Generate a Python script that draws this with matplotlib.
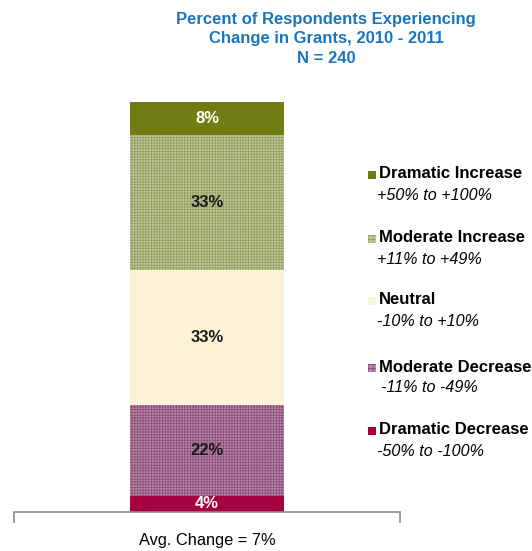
import matplotlib.pyplot as plt
from matplotlib.patches import Rectangle

plt.rcParams['font.family'] = ['Liberation Sans', 'DejaVu Sans']

# stacked from bottom to top
categories = ['Dramatic Decrease', 'Moderate Decrease', 'Neutral',
              'Moderate Increase', 'Dramatic Increase']
ranges = ['-50% to -100%', '-11% to -49%', '-10% to +10%',
          '+11% to +49%', '+50% to +100%']
values = [4, 22, 33, 33, 8]
colors = ['#a5003f', '#b98aaa', '#fdf2d8', '#c3c99c', '#6f7d12']
hatch_colors = [None, '#8a4f78', None, '#939f62', None]
label_colors = ['white', '#1a1a1a', '#1a1a1a', '#1a1a1a', 'white']
x_label = 'Avg. Change = 7%'

fig = plt.figure(figsize=(5.32, 5.51), dpi=100)
ax = fig.add_axes([14 / 532, 39 / 551, 386 / 532, 410 / 551])

plt.rcParams['hatch.linewidth'] = 0.6
bottom = 0
for v, c, hc, lc in zip(values, colors, hatch_colors, label_colors):
    if hc:
        ax.bar(0, v, width=0.4, bottom=bottom, color=c, edgecolor=hc,
               hatch='++++++', linewidth=0)
    else:
        ax.bar(0, v, width=0.4, bottom=bottom, color=c, linewidth=0)
    ax.text(0, bottom + v / 2, f'{v}%', ha='center', va='center',
            fontsize=12, fontweight='bold', color=lc)
    bottom += v

ax.set_xlim(-0.5, 0.5)
ax.set_ylim(0, 100)
for s in ['top', 'right', 'left']:
    ax.spines[s].set_visible(False)
ax.spines['bottom'].set_color('#8c8c8c')
ax.spines['bottom'].set_linewidth(1.2)
ax.set_yticks([])
ax.set_xticks([-0.5, 0.5])
ax.set_xticklabels(['', ''])
ax.tick_params(axis='x', length=8, color='#8c8c8c', width=1.2)
ax.text(0, -7, x_label, ha='center', va='center', fontsize=11.8,
        transform=ax.transData, clip_on=False)

fig.text(326 / 532, 1 - 39 / 551,
         'Percent of Respondents Experiencing\nChange in Grants, 2010 - 2011\nN = 240',
         ha='center', va='center', fontsize=12, fontweight='bold',
         color='#1b75bb', linespacing=1.36)

# legend, top item first
legend_y = [174, 238, 300, 367, 430]
for i, y in enumerate(legend_y):
    k = len(categories) - 1 - i
    fig.add_artist(Rectangle((368 / 532, 1 - (y + 5) / 551), 8 / 532, 8 / 551,
                             transform=fig.transFigure, facecolor=colors[k],
                             edgecolor=hatch_colors[k] or colors[k],
                             hatch='++++' if hatch_colors[k] else None,
                             linewidth=0))
    fig.text(379 / 532, 1 - y / 551, categories[k], ha='left', va='center',
             fontsize=12, fontweight='bold')
    indent = 381 if k == 1 else 377
    fig.text(indent / 532, 1 - (y + 21) / 551, ranges[k], ha='left',
             va='center', fontsize=11.6, fontstyle='italic')

fig.savefig('out.png', dpi=100)
